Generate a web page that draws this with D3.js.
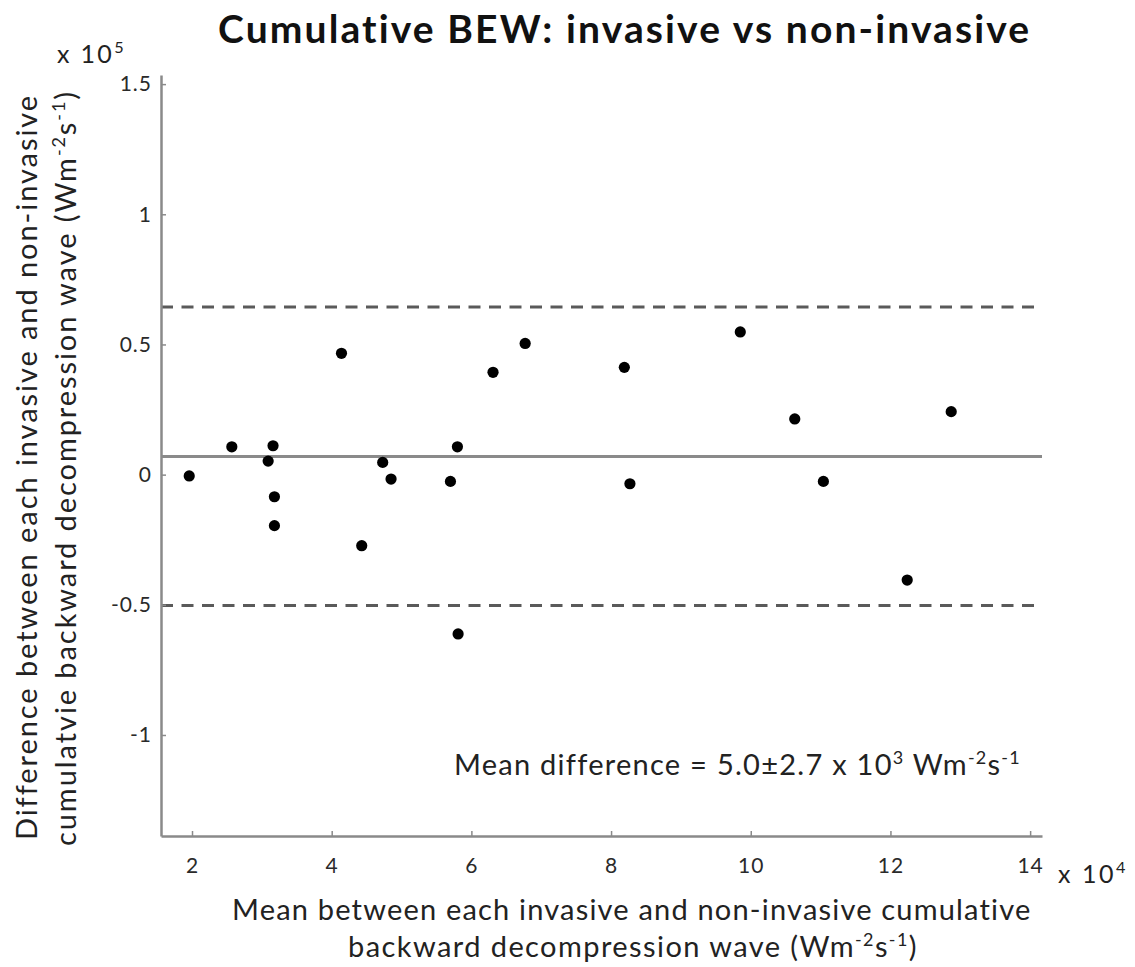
<!DOCTYPE html>
<html>
<head>
<meta charset="utf-8">
<script src="https://cdn.jsdelivr.net/npm/d3@7"></script>
<style>
  body { margin: 0; background: #fff; }
  text { font-family: Lato, "Open Sans", sans-serif; }
</style>
</head>
<body>
<div id="chart"></div>
<script>
// Bland-Altman data (x in 1e4 units, y in 1e5 units)
var meanVals = [1.96, 2.57, 3.09, 3.16, 3.18, 3.18, 4.14, 4.43, 4.73, 4.85, 5.70,
                5.80, 5.81, 6.31, 6.77, 8.19, 8.27, 9.85, 10.63, 11.04, 12.24, 12.87];
var diffVals = [-0.005, 0.107, 0.052, 0.111, -0.085, -0.196, 0.466, -0.273, 0.047, -0.017, -0.026,
                0.107, -0.612, 0.393, 0.504, 0.412, -0.035, 0.548, 0.214, -0.026, -0.405, 0.242];
var refLines = [0.644, 0.07, -0.503];   // upper LoA, mean, lower LoA
var refStyles = ["dash", "solid", "dash"];
var xTicks = [2, 4, 6, 8, 10, 12, 14];
var yTicks = [-1, -0.5, 0, 0.5, 1, 1.5];
var yTickLabels = ["-1", "-0.5", "0", "0.5", "1", "1.5"];

var W = 1135, H = 967;
var svg = d3.select("#chart").append("svg")
    .attr("width", W)
    .attr("height", H);

var x = d3.scaleLinear().domain([1.556, 14.17]).range([161, 1042]);
var y = d3.scaleLinear().domain([-1.388, 1.535]).range([836, 75]);

var axisCol = "#8a8a8a";

// stretch a text to the width it has in the picture (the original font is wider than Lato)
function fit(t, target) {
    var w = t.node().getBBox().width;
    var n = t.node().getNumberOfChars();
    t.style("letter-spacing", ((target - w) / n) + "px");
}

// reference lines
svg.selectAll("line.ref")
    .data(refLines)
    .enter().append("line")
    .attr("class", "ref")
    .attr("x1", x.range()[0])
    .attr("x2", x.range()[1])
    .attr("y1", function(d){ return y(d); })
    .attr("y2", function(d){ return y(d); })
    .style("stroke", function(d, i){ return refStyles[i] == "dash" ? "#5a5a5a" : "#8a8a8a"; })
    .style("stroke-width", 3)
    .style("stroke-dasharray", function(d, i){ return refStyles[i] == "dash" ? "12,8.5" : null; });

// axes
var xAxis = d3.axisBottom(x).tickValues(xTicks).tickSizeInner(-5).tickSizeOuter(0).tickPadding(22);
var yAxis = d3.axisLeft(y).tickValues(yTicks).tickSizeInner(-5).tickSizeOuter(0).tickPadding(9)
    .tickFormat(function(d, i){ return yTickLabels[i]; });

var gx = svg.append("g").attr("transform", "translate(0," + y.range()[0] + ")").call(xAxis);
var gy = svg.append("g").attr("transform", "translate(" + x.range()[0] + ",0)").call(yAxis);

[gx, gy].forEach(function(g){
    g.select(".domain").style("stroke", axisCol).style("stroke-width", 2.5);
    g.selectAll(".tick line").style("stroke", axisCol).style("stroke-width", 1.5);
    g.selectAll(".tick text")
        .style("font-family", "Lato, sans-serif")
        .style("font-size", "21px")
        .style("letter-spacing", "1px")
        .style("fill", "#2a2a2a");
});

// points
svg.selectAll("circle")
    .data(meanVals)
    .enter().append("circle")
    .attr("cx", function(d){ return x(d); })
    .attr("cy", function(d, i){ return y(diffVals[i]); })
    .attr("r", 5.6)
    .style("fill", "#000");

// title
var title = svg.append("text")
    .attr("x", 218).attr("y", 43)
    .style("font-size", "39px")
    .style("font-weight", "bold")
    .style("fill", "#111")
    .text("Cumulative BEW: invasive vs non-invasive");
fit(title, 814);

// multiplier labels
function power(px, py, base, exp, fs, target) {
    var t = svg.append("text").attr("x", px).attr("y", py)
        .style("font-size", fs + "px").style("fill", "#222");
    t.append("tspan").text(base);
    t.append("tspan").attr("dy", -fs * 0.4).style("font-size", (fs * 0.65) + "px").text(exp);
    fit(t, target);
    return t;
}
power(57, 63, "x 10", "5", 25, 69);
power(1058, 883, "x 10", "4", 25, 70);

// units helper: appends "(Wm-2s-1)" style superscripts
function units(t, fs, open, close) {
    var s = fs * 0.62;
    t.append("tspan").text(open + "Wm");
    t.append("tspan").attr("dy", -fs * 0.38).style("font-size", s + "px").text("-2");
    t.append("tspan").attr("dy", fs * 0.38).text("s");
    t.append("tspan").attr("dy", -fs * 0.38).style("font-size", s + "px").text("-1");
    t.append("tspan").attr("dy", fs * 0.38).text(close);
}

// x label
var fsLab = 29;
var xl1 = svg.append("text").attr("x", 232).attr("y", 920)
    .style("font-size", fsLab + "px").style("fill", "#222")
    .text("Mean between each invasive and non-invasive cumulative");
fit(xl1, 800);
var xl2 = svg.append("text").attr("x", 348).attr("y", 957)
    .style("font-size", fsLab + "px").style("fill", "#222");
xl2.append("tspan").text("backward decompression wave ");
units(xl2, fsLab, "(", ")");
fit(xl2, 570);

// y label
var yl1 = svg.append("text").attr("transform", "translate(37,840) rotate(-90)")
    .style("font-size", fsLab + "px").style("fill", "#222")
    .text("Difference between each invasive and non-invasive");
fit(yl1, 745);
var yl2 = svg.append("text").attr("transform", "translate(76,846) rotate(-90)")
    .style("font-size", fsLab + "px").style("fill", "#222");
yl2.append("tspan").text("cumulatvie backward decompression wave ");
units(yl2, fsLab, "(", ")");
fit(yl2, 756);

// annotation
var ann = svg.append("text").attr("x", 454).attr("y", 775)
    .style("font-size", "29px").style("fill", "#222");
ann.append("tspan").text("Mean difference = 5.0\u00b12.7 x 10");
ann.append("tspan").attr("dy", -11).style("font-size", "18px").text("3");
ann.append("tspan").attr("dy", 11).text(" ");
units(ann, 29, "", "");
fit(ann, 566);
</script>
</body>
</html>
